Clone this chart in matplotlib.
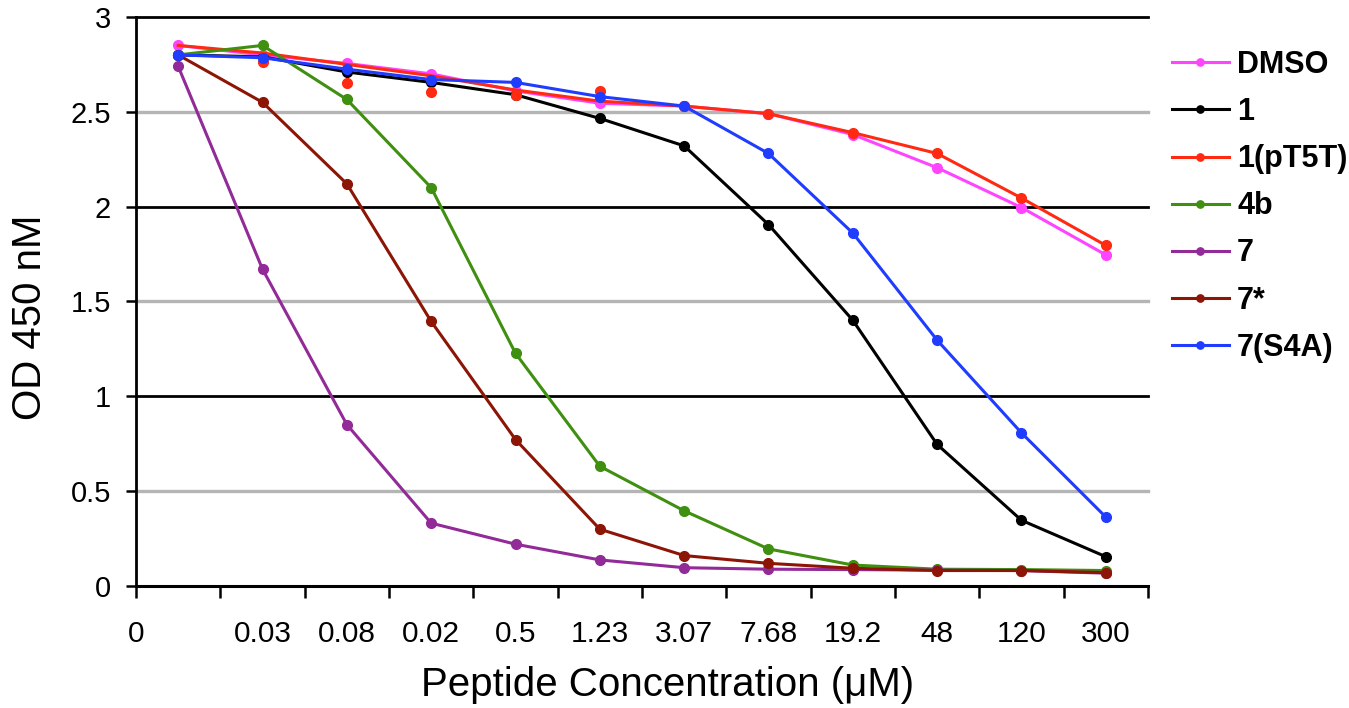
import numpy as np
import matplotlib.pyplot as plt

plt.rcParams['font.family'] = ['Liberation Sans', 'DejaVu Sans']

conc_labels = ["0", "0.03", "0.08", "0.02", "0.5", "1.23", "3.07",
               "7.68", "19.2", "48", "120", "300"]

dmso = [2.85, 2.80, 2.755, 2.70, 2.61, 2.545, 2.53, 2.49, 2.38, 2.205, 1.995, 1.745]
cmpd_1 = [2.80, 2.79, 2.71, 2.655, 2.59, 2.465, 2.32, 1.905, 1.40, 0.745, 0.345, 0.153]
pt5t_line = [2.85, 2.81, 2.75, 2.69, 2.615, 2.556, 2.53, 2.49, 2.39, 2.28, 2.045, 1.795]
pt5t_points = [2.80, 2.76, 2.65, 2.605, 2.59, 2.61, 2.53, 2.49, 2.39, 2.28, 2.045, 1.795]
cmpd_4b = [2.80, 2.85, 2.565, 2.10, 1.226, 0.63, 0.395, 0.194, 0.109, 0.087, 0.085, 0.08]
cmpd_7 = [2.74, 1.67, 0.85, 0.33, 0.219, 0.136, 0.095, 0.087, 0.085, 0.082, 0.08, 0.066]
cmpd_7star = [2.80, 2.55, 2.12, 1.394, 0.771, 0.298, 0.159, 0.118, 0.092, 0.080, 0.080, 0.069]
cmpd_7s4a = [2.80, 2.785, 2.725, 2.67, 2.655, 2.58, 2.53, 2.28, 1.86, 1.295, 0.806, 0.362]

W, H = 1349, 708
fig = plt.figure(figsize=(W / 100, H / 100), dpi=100)
ax = fig.add_axes([136 / W, 1 - 585.7 / H, 1012 / W, 568.7 / H])

x = np.arange(len(conc_labels))
lw = 2.2
ms = 7

handles = []
h, = ax.plot(x, dmso, 'o-', color='#ff44ff', lw=lw, ms=ms)
handles.append(h)
h, = ax.plot(x, cmpd_1, 'o-', color='black', lw=lw, ms=ms)
handles.append(h)
red_line, = ax.plot(x, pt5t_line, '-', color='#ff2a12', lw=lw)
red_pts, = ax.plot(x, pt5t_points, 'o', color='#ff2a12', ms=ms)
handles.append((red_line, red_pts))
h, = ax.plot(x, cmpd_4b, 'o-', color='#3f8f10', lw=lw, ms=ms)
handles.append(h)
h, = ax.plot(x, cmpd_7, 'o-', color='#922a98', lw=lw, ms=ms)
handles.append(h)
h, = ax.plot(x, cmpd_7star, 'o-', color='#8c1506', lw=lw, ms=ms)
handles.append(h)
h, = ax.plot(x, cmpd_7s4a, 'o-', color='#1f3cff', lw=lw, ms=ms)
handles.append(h)

ax.set_xlim(-0.5, len(x) - 0.5)
ax.set_ylim(0, 3)

# horizontal grid: black at whole numbers, grey at halves
yt = np.arange(0, 3.01, 0.5)
ax.set_yticks(yt, ["0", "0.5", "1", "1.5", "2", "2.5", "3"])
ax.grid(axis='y', zorder=0)
ax.set_axisbelow(True)
for v, gl in zip(yt, ax.get_ygridlines()):
    if v % 1 == 0:
        gl.set_color('black')
        gl.set_linewidth(2.0)
    else:
        gl.set_color('#b5b5b5')
        gl.set_linewidth(2.4)
    gl.set_clip_on(False)

# category boundaries carry the tick marks, centres carry the labels
ax.set_xticks(np.arange(-0.5, len(x)), ["0"] + [""] * len(x))
ax.set_xticks(x[1:], conc_labels[1:], minor=True)
ax.tick_params(axis='x', which='major', direction='out', length=8.5, width=1.8,
               pad=16, labelsize=21.5)
ax.tick_params(axis='x', which='minor', length=0, pad=24.5, labelsize=21.5)
ax.tick_params(axis='y', direction='out', length=7, width=1.8, pad=11, labelsize=21)

for s in ['top', 'right']:
    ax.spines[s].set_visible(False)
ax.spines['left'].set_linewidth(2.0)
ax.spines['bottom'].set_linewidth(2.2)

fig.text(668 / W, 1 - 685 / H, "Peptide Concentration (\u03bcM)", fontsize=29,
         ha='center', va='center')
fig.text(30 / W, 1 - 317 / H, "OD 450 nM", fontsize=29, rotation=90,
         ha='center', va='center')

names = ["DMSO", "1", "1(pT5T)", "4b", "7", "7*", "7(S4A)"]
ax.legend(handles, names, loc='upper left', bbox_to_anchor=(1172 / W, 1 - 50 / H),
          bbox_transform=fig.transFigure, frameon=False, borderpad=0,
          borderaxespad=0, handlelength=1.85, handletextpad=0.28,
          labelspacing=0.56, markerscale=0.75,
          prop={'weight': 'bold', 'size': 22})

fig.savefig("out.png", dpi=100)
